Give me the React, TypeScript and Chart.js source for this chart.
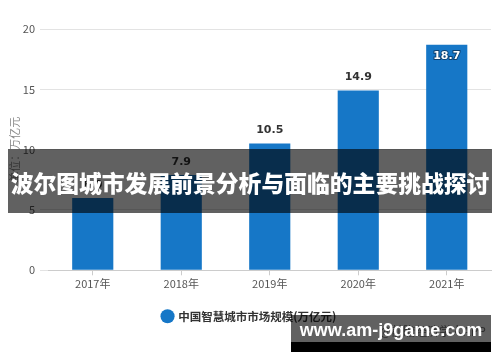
import React, { useEffect, useRef } from "react";
import { Chart, registerables } from "chart.js";

Chart.register(...registerables);

// ---- data ----
const categories = ["2017年", "2018年", "2019年", "2020年", "2021年"];
const marketSize = [6.0, 7.9, 10.5, 14.9, 18.7];
const yTicks = [0, 5, 10, 15, 20];
const seriesName = "中国智慧城市市场规模(万亿元)";
const yTitle = "单位：万亿元";
const bannerTitle = "波尔图城市发展前景分析与面临的主要挑战探讨";
const siteText = "www.am-j9game.com";
const sourceText = "@前瞻经济学人APP";

const CJK = '"Noto Sans CJK SC", "Liberation Sans", sans-serif';

const valueLabels = {
  id: "valueLabels",
  afterDatasetsDraw(chart: any) {
    const ctx = chart.ctx;
    const meta = chart.getDatasetMeta(0);
    const data = chart.data.datasets[0].data as number[];
    ctx.save();
    ctx.textAlign = "center";
    ctx.textBaseline = "middle";
    ctx.font = 'bold 11px "DejaVu Sans", sans-serif';
    meta.data.forEach((bar: any, i: number) => {
      const txt = data[i].toFixed(1);
      const inside = bar.y - 22 < chart.chartArea.top;
      if (inside) {
        ctx.lineWidth = 2;
        ctx.strokeStyle = "rgba(10,50,90,0.8)";
        ctx.strokeText(txt, bar.x, bar.y + 11);
        ctx.fillStyle = "#ffffff";
        ctx.fillText(txt, bar.x, bar.y + 11);
      } else {
        ctx.fillStyle = "#333333";
        ctx.fillText(txt, bar.x, bar.y - 13);
      }
    });
    ctx.restore();
  },
};

export default function App() {
  const ref = useRef<HTMLCanvasElement | null>(null);

  useEffect(() => {
    if (!ref.current) return;
    const chart = new Chart(ref.current, {
      type: "bar",
      data: {
        labels: categories,
        datasets: [
          {
            label: seriesName,
            data: marketSize,
            backgroundColor: "#1677c7",
            borderWidth: 0,
            categoryPercentage: 1,
            barPercentage: 0.465,
          },
        ],
      },
      options: {
        animation: false,
        responsive: false,
        layout: { padding: { top: 21, right: 1, left: 0, bottom: 6 } },
        plugins: {
          tooltip: { enabled: false },
          legend: {
            position: "bottom",
            labels: {
              usePointStyle: true,
              pointStyle: "circle",
              boxWidth: 10,
              boxHeight: 10,
              padding: 14,
              color: "#333333",
              font: { family: CJK, size: 11.5, weight: "bold" },
            },
          },
        },
        scales: {
          x: {
            grid: {
              offset: false,
              drawOnChartArea: false,
              drawTicks: true,
              tickLength: 5,
              color: "#cccccc",
            },
            border: { color: "#cccccc" },
            ticks: {
              color: "#555555",
              padding: 2,
              font: { family: CJK, size: 11 },
            },
            afterFit: (scale: any) => {
              scale.height = scale.height + 4;
            },
          },
          y: {
            min: 0,
            max: 20,
            afterBuildTicks: (scale: any) => {
              scale.ticks = yTicks.map((v) => ({ value: v }));
            },
            afterFit: (scale: any) => {
              scale.width = 40.5;
            },
            grid: { color: "#e3e3e3", tickLength: 8.5, drawTicks: true },
            border: { display: false },
            ticks: {
              color: "#555555",
              padding: 5,
              font: { family: CJK, size: 11 },
            },
            title: {
              display: true,
              text: yTitle,
              color: "#888888",
              padding: 0,
              font: { family: CJK, size: 11 },
            },
          },
        },
      },
      plugins: [valueLabels],
    });
    return () => chart.destroy();
  }, []);

  return (
    <div style={{ position: "relative", width: 484, height: 346 }}>
      <canvas ref={ref} width={484} height={330} style={{ display: "block" }} />
      <div
        style={{
          position: "absolute",
          left: 372,
          top: 314,
          color: "#777777",
          fontFamily: CJK,
          fontSize: 12,
          whiteSpace: "nowrap",
        }}
      >
        {sourceText}
      </div>
      <div
        style={{
          position: "absolute",
          left: 0,
          top: 141,
          width: 484,
          height: 64,
          background: "rgba(0,0,0,0.62)",
          color: "#ffffff",
          fontFamily: CJK,
          fontWeight: 900,
          fontSize: 22.8,
          lineHeight: "64px",
          textAlign: "center",
          whiteSpace: "nowrap",
          overflow: "hidden",
          paddingTop: 2,
          boxSizing: "border-box",
        }}
      >
        <span style={{ display: "inline-block", lineHeight: "58px" }}>{bannerTitle}</span>
      </div>
      <div
        style={{
          position: "absolute",
          left: 283,
          top: 307,
          width: 200,
          height: 37,
          background: "rgba(0,0,0,0.62)",
        }}
      >
        <div
          style={{
            height: 27,
            lineHeight: "27px",
            color: "#ffffff",
            fontFamily: '"Liberation Sans", Arial, sans-serif',
            fontWeight: "bold",
            fontSize: 18,
            textAlign: "center",
            paddingTop: 2,
          }}
        >
          {siteText}
        </div>
        <div style={{ position: "absolute", left: 0, bottom: 0, width: 200, height: 10, background: "#000000" }} />
      </div>
    </div>
  );
}
